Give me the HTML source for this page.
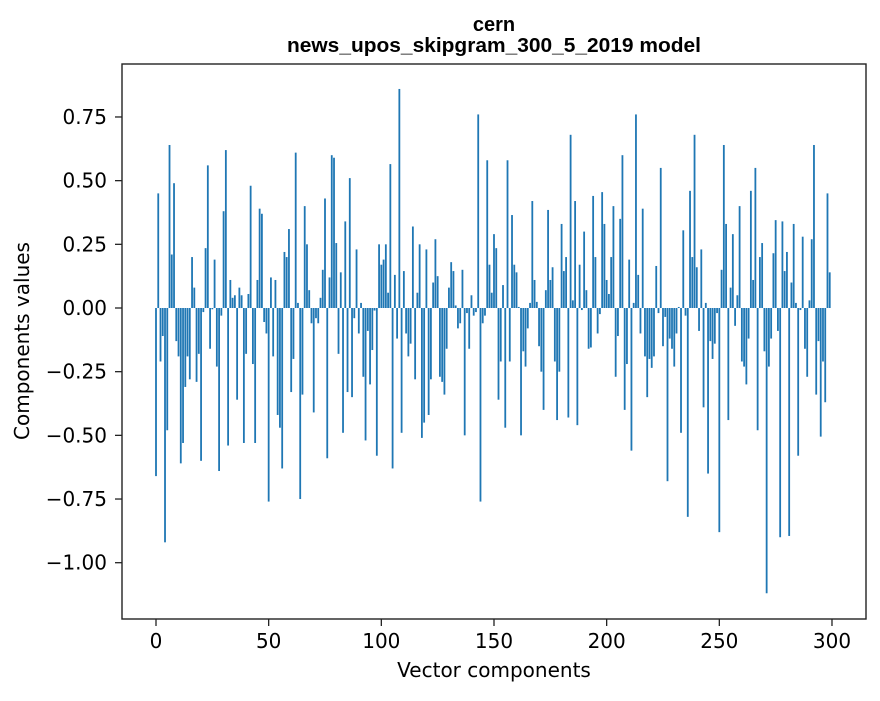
<!DOCTYPE html>
<html><head><meta charset="utf-8"><style>
body{margin:0;background:#fff;}
svg text{font-family:"DejaVu Sans",sans-serif;fill:#000;}
</style></head><body>
<svg id="chart" width="880" height="696" xmlns="http://www.w3.org/2000/svg">
<rect width="880" height="696" fill="#fff"/>
<text x="494" y="31" font-size="20" font-weight="bold" text-anchor="middle" style="font-family:'Liberation Sans',sans-serif">cern</text>
<text x="494" y="52" font-size="20" font-weight="bold" text-anchor="middle" textLength="414" lengthAdjust="spacingAndGlyphs" style="font-family:'Liberation Sans',sans-serif">news_upos_skipgram_300_5_2019 model</text>
<g id="bars"></g>
<rect x="122" y="64" width="744" height="555" fill="none" stroke="#222" stroke-width="1.4"/>
<g id="axes"></g>
<text x="494" y="677" font-size="20" text-anchor="middle">Vector components</text>
<text transform="translate(29,341) rotate(-90)" font-size="20" text-anchor="middle">Components values</text>
</svg>
<script>
const values=[-0.66,0.45,-0.21,-0.11,-0.92,-0.48,0.64,0.21,0.49,-0.13,
-0.19,-0.61,-0.53,-0.31,-0.19,-0.28,0.2,0.08,-0.29,-0.18,
-0.6,-0.016,0.235,0.56,-0.16,-0.005,0.19,-0.23,-0.64,-0.03,
0.38,0.62,-0.54,0.11,0.04,0.05,-0.36,0.08,0.05,-0.53,
-0.18,0.055,0.48,-0.22,-0.53,0.11,0.39,0.37,-0.055,-0.1,
-0.76,0.12,-0.19,0.11,-0.42,-0.47,-0.63,0.22,0.2,0.31,
-0.33,-0.2,0.61,0.02,-0.75,-0.34,0.4,0.25,0.07,-0.06,
-0.41,-0.04,-0.06,0.04,0.15,0.43,-0.59,0.12,0.6,0.59,
0.255,-0.18,0.14,-0.49,0.34,-0.33,0.51,-0.35,-0.04,0.23,
-0.1,0.02,-0.27,-0.52,-0.09,-0.3,-0.165,-0.01,-0.58,0.25,
0.17,0.19,0.25,0.06,0.565,-0.63,0.13,-0.12,0.86,-0.49,
0.145,-0.1,-0.19,-0.14,0.32,-0.28,0.06,0.25,-0.51,-0.45,
0.23,-0.42,-0.28,0.1,0.27,0.125,-0.27,-0.29,-0.34,-0.16,
0.08,0.18,0.145,0.01,-0.08,-0.06,0.15,-0.5,-0.02,-0.16,
0.05,-0.03,-0.016,0.76,-0.76,-0.06,-0.03,0.58,0.17,0.06,
0.29,0.235,-0.36,-0.21,0.09,-0.47,0.58,-0.21,0.365,0.17,
0.14,0.004,-0.5,-0.17,-0.23,-0.08,0.02,0.42,0.11,0.024,
-0.15,-0.25,-0.4,0.07,0.385,0.11,0.16,-0.21,-0.44,-0.25,
0.33,0.145,0.2,-0.43,0.68,0.03,0.42,-0.46,0.17,-0.008,
0.3,0.07,-0.16,-0.155,0.44,0.2,-0.1,-0.024,0.455,0.33,
0.11,0.055,0.2,0.4,-0.27,-0.11,0.35,0.6,-0.4,-0.22,
0.19,-0.56,0.02,0.76,0.13,-0.1,0.39,-0.19,-0.35,-0.2,
-0.235,-0.19,0.165,-0.02,0.55,-0.15,-0.035,-0.68,-0.12,-0.16,
-0.23,-0.1,0.004,-0.49,0.305,-0.03,-0.82,0.46,0.2,0.68,
0.16,-0.09,0.23,-0.39,0.02,-0.65,-0.13,-0.2,-0.14,-0.02,
-0.88,0.15,0.64,0.33,-0.44,0.08,0.29,-0.07,0.05,0.4,
-0.21,-0.23,-0.3,-0.12,0.46,0.11,0.55,-0.48,0.2,0.255,
-0.17,-1.12,-0.23,-0.12,0.215,0.345,-0.09,-0.9,0.34,0.145,
0.22,-0.895,0.1,0.33,0.02,-0.58,-0.008,0.28,-0.16,-0.27,
0.03,0.27,0.64,-0.34,-0.13,-0.505,-0.21,-0.37,0.45,0.14];
const xTicks=[0,50,100,150,200,250,300];
const yTicks=[-1.00,-0.75,-0.50,-0.25,0.00,0.25,0.50,0.75];
const yTickLabels=["\u22121.00","\u22120.75","\u22120.50","\u22120.25","0.00","0.25","0.50","0.75"];
const NS="http://www.w3.org/2000/svg";
const xs=v=>156+v*2.2533;
const ys=v=>308-v*254.7;
const bars=document.getElementById('bars');
values.forEach((v,i)=>{
  const r=document.createElementNS(NS,'rect');
  
  
  const y0=ys(0),y1=ys(v);
  r.setAttribute('x',xs(i-0.4));
  r.setAttribute('width',0.8*2.2533);
  r.setAttribute('y',Math.min(y0,y1));
  r.setAttribute('height',Math.abs(y1-y0));
  r.setAttribute('fill','#1f77b4');
  bars.appendChild(r);
});
const axes=document.getElementById('axes');
xTicks.forEach(t=>{
  const x=xs(t);
  const l=document.createElementNS(NS,'line');
  
  
  l.setAttribute('x1',x);l.setAttribute('x2',x);l.setAttribute('y1',619);l.setAttribute('y2',626);
  l.setAttribute('stroke','#222');l.setAttribute('stroke-width','1.3');
  axes.appendChild(l);
  const tx=document.createElementNS(NS,'text');
  
  
  tx.setAttribute('x',x);tx.setAttribute('y',648);tx.setAttribute('font-size','20');tx.setAttribute('text-anchor','middle');
  tx.textContent=t;
  axes.appendChild(tx);
});
yTicks.forEach((t,i)=>{
  const y=ys(t);
  const l=document.createElementNS(NS,'line');
  
  
  l.setAttribute('x1',115);l.setAttribute('x2',122);l.setAttribute('y1',y);l.setAttribute('y2',y);
  l.setAttribute('stroke','#222');l.setAttribute('stroke-width','1.3');
  axes.appendChild(l);
  const tx=document.createElementNS(NS,'text');
  
  
  tx.setAttribute('x',107);tx.setAttribute('y',y+7);tx.setAttribute('font-size','20');tx.setAttribute('text-anchor','end');
  tx.textContent=yTickLabels[i];
  axes.appendChild(tx);
});
</script>
</body></html>
